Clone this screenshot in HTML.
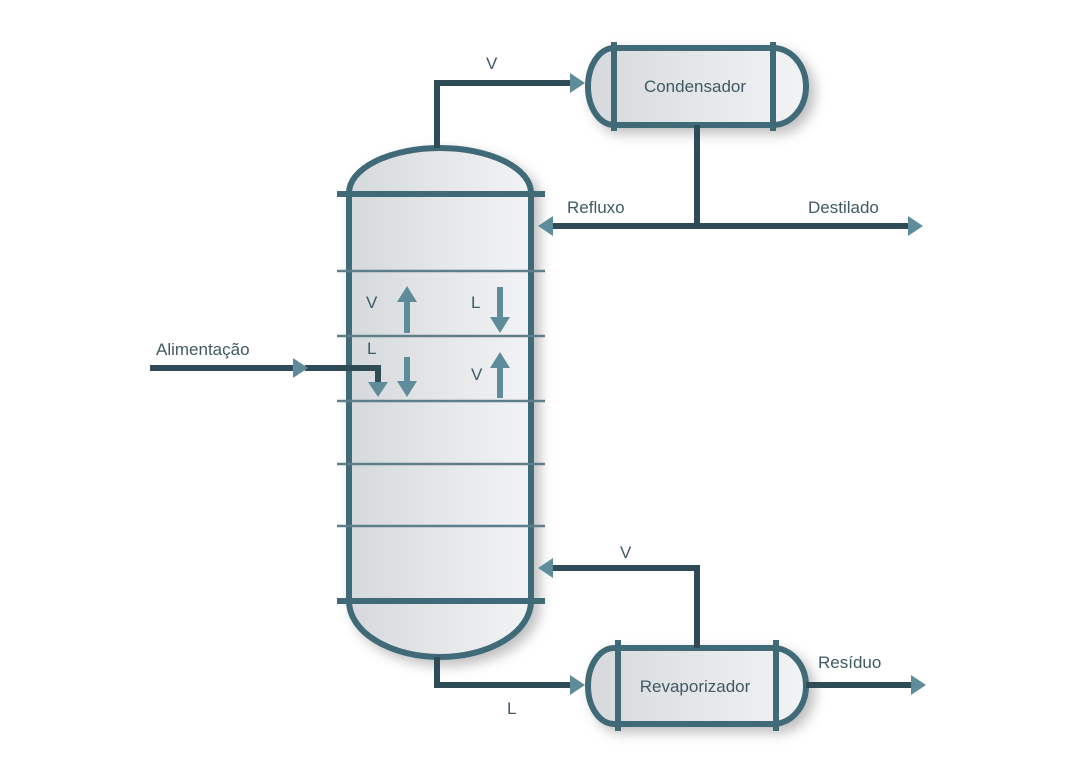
<!DOCTYPE html>
<html><head><meta charset="utf-8"><style>
html,body{margin:0;padding:0;background:#fff;width:1080px;height:770px;overflow:hidden}
text{font-family:"Liberation Sans",sans-serif;fill:#3e5a66;font-size:17px}
</style></head><body>
<svg width="1080" height="770" viewBox="0 0 1080 770" xmlns="http://www.w3.org/2000/svg">
<defs>
<linearGradient id="g" x1="0" x2="1" y1="0" y2="0"><stop offset="0" stop-color="#d6d9dc"/><stop offset="1" stop-color="#f2f3f4"/></linearGradient>
<filter id="sh" x="-20%" y="-20%" width="150%" height="150%"><feDropShadow dx="6" dy="6" stdDeviation="6" flood-color="#000" flood-opacity="0.25"/></filter>
</defs>
<g fill="none" stroke="#416a78" stroke-width="6">
<path d="M349,193 L349,601 A91,56 0 0 0 531,601 L531,193 A91,45 0 0 0 349,193 Z" fill="url(#g)" filter="url(#sh)"/>
<line x1="337" y1="194" x2="545" y2="194"/>
<line x1="337" y1="601" x2="545" y2="601"/>
<g stroke-width="2.5" stroke="#5d7e8a">
<line x1="337" y1="271" x2="545" y2="271"/>
<line x1="337" y1="336" x2="545" y2="336"/>
<line x1="337" y1="401" x2="545" y2="401"/>
<line x1="337" y1="464" x2="545" y2="464"/>
<line x1="337" y1="526" x2="545" y2="526"/>
</g>
<path d="M614,48 L773,48 A33,38.5 0 0 1 773,125 L614,125 A26,38.5 0 0 1 614,48 Z" fill="url(#g)" filter="url(#sh)"/>
<line x1="614" y1="42" x2="614" y2="131"/><line x1="773" y1="42" x2="773" y2="131"/>
<path d="M614,648 L773,648 A33,38 0 0 1 773,724 L614,724 A26,38 0 0 1 614,648 Z" fill="url(#g)" filter="url(#sh)"/>
<line x1="618" y1="640" x2="618" y2="731"/><line x1="776" y1="640" x2="776" y2="731"/>
<g stroke="#2f4c56">
<polyline points="437,148 437,83 575,83"/>
<line x1="697" y1="125" x2="697" y2="226"/>
<line x1="550" y1="226" x2="910" y2="226"/>
<line x1="150" y1="368" x2="295" y2="368"/>
<polyline points="305,368 378,368 378,383"/>
<polyline points="437,657 437,685 575,685"/>
<polyline points="697,648 697,568 550,568"/>
<line x1="806" y1="685" x2="913" y2="685"/>
</g>
<g stroke="#5f8c9b" stroke-width="6">
<line x1="407" y1="333" x2="407" y2="298"/>
<line x1="500" y1="287" x2="500" y2="320"/>
<line x1="407" y1="357" x2="407" y2="385"/>
<line x1="500" y1="398" x2="500" y2="365"/>
</g>
</g>
<g fill="#5f8c9b">
<polygon points="585,83 570,73 570,93"/>
<polygon points="538,226 553,216 553,236"/>
<polygon points="923,226 908,216 908,236"/>
<polygon points="308,368 293,358 293,378"/>
<polygon points="378,397 368,382 388,382"/>
<polygon points="585,685 570,675 570,695"/>
<polygon points="538,568 553,558 553,578"/>
<polygon points="926,685 911,675 911,695"/>
<polygon points="407,286 397,302 417,302"/>
<polygon points="500,333 490,317 510,317"/>
<polygon points="407,397 397,381 417,381"/>
<polygon points="500,352 490,368 510,368"/>
</g>
<text x="486" y="69">V</text>
<text x="695" y="92" text-anchor="middle">Condensador</text>
<text x="567" y="213">Refluxo</text>
<text x="808" y="213">Destilado</text>
<text x="366" y="308">V</text>
<text x="471" y="308">L</text>
<text x="156" y="355">Alimentação</text>
<text x="367" y="354">L</text>
<text x="471" y="380">V</text>
<text x="620" y="558">V</text>
<text x="695" y="692" text-anchor="middle">Revaporizador</text>
<text x="818" y="668">Resíduo</text>
<text x="507" y="714">L</text>
</svg>
</body></html>
